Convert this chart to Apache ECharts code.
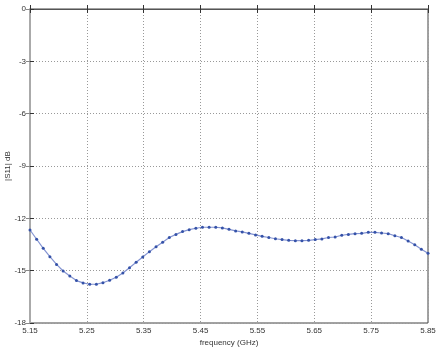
<!DOCTYPE html>
<html><head><meta charset="utf-8">
<script src="https://cdn.jsdelivr.net/npm/echarts@6/dist/echarts.min.js"></script>
<style>html,body{margin:0;padding:0;background:#fff}#c{width:438px;height:353px}</style>
</head><body><div id="c"></div>
<script>
var freq = [5.15,5.1617,5.1733,5.185,5.1967,5.2083,5.22,5.2317,5.2433,5.255,
5.2667,5.2783,5.29,5.3017,5.3133,5.325,5.3367,5.3483,5.36,5.3717,
5.3833,5.395,5.4067,5.4183,5.43,5.4417,5.4533,5.465,5.4767,5.4883,
5.5,5.5117,5.5233,5.535,5.5467,5.5583,5.57,5.5817,5.5933,5.605,
5.6167,5.6283,5.64,5.6517,5.6633,5.675,5.6867,5.6983,5.71,5.7217,
5.7333,5.745,5.7567,5.7683,5.78,5.7917,5.8033,5.815,5.8267,5.8383,5.85];
var s11 = [-12.67,-13.2,-13.72,-14.2,-14.64,-15.02,-15.3,-15.57,-15.7,-15.78,
-15.78,-15.69,-15.55,-15.38,-15.13,-14.83,-14.52,-14.22,-13.91,-13.63,
-13.37,-13.1,-12.92,-12.76,-12.65,-12.57,-12.51,-12.51,-12.51,-12.55,
-12.63,-12.72,-12.78,-12.86,-12.95,-13.03,-13.1,-13.17,-13.22,-13.26,
-13.28,-13.28,-13.26,-13.22,-13.18,-13.1,-13.07,-12.97,-12.92,-12.88,
-12.86,-12.8,-12.8,-12.84,-12.88,-13.0,-13.1,-13.3,-13.51,-13.77,-14.0];
var xStart = 5.15, xEnd = 5.85, xStep = 0.1;
var yTicks = [0,-3,-6,-9,-12,-15,-18];
var xLabel = 'frequency (GHz)', yLabel = '|S11| dB';

var data = freq.map(function(f,i){ return [+(f - xStart).toFixed(4), s11[i]]; });
var font = {fontFamily:'Liberation Sans', fontSize:8, color:'#333'};
var chart = echarts.init(document.getElementById('c'), null, {renderer:'canvas'});
chart.setOption({
  animation:false,
  backgroundColor:'#fff',
  grid:{left:30,right:10,top:9,bottom:30,containLabel:false,outerBoundsMode:'none',show:true,borderColor:'#444',borderWidth:1,backgroundColor:'#fff'},
  xAxis:[{
    type:'value', min:0, max:+(xEnd-xStart).toFixed(2), interval:xStep, position:'bottom',
    name:xLabel, nameLocation:'middle', nameGap:16, nameMoveOverlap:false,
    nameTextStyle:font,
    axisLine:{show:true,lineStyle:{color:'#555',width:1}},
    axisTick:{show:true,inside:true,length:4,lineStyle:{color:'#333'}},
    axisLabel:Object.assign({margin:4,formatter:function(v){return (v+xStart).toFixed(2);}},font),
    splitLine:{show:true,lineStyle:{color:'#999',type:[1,2],width:1}}
  },{
    type:'value', min:0, max:+(xEnd-xStart).toFixed(2), interval:xStep, position:'top',
    axisLine:{show:false},
    axisTick:{show:true,inside:true,length:4,lineStyle:{color:'#333'}},
    axisLabel:{show:false}, splitLine:{show:false}
  }],
  yAxis:[{
    type:'value', min:yTicks[yTicks.length-1], max:yTicks[0], interval:3,
    name:yLabel, nameLocation:'middle', nameGap:18, nameRotate:90, nameMoveOverlap:false,
    nameTextStyle:font,
    axisLine:{show:true,lineStyle:{color:'#aaa',width:2}},
    axisTick:{show:true,inside:true,length:4,lineStyle:{color:'#333'}},
    axisLabel:Object.assign({margin:4},font),
    splitLine:{show:true,lineStyle:{color:'#999',type:[1,2],width:1}}
  },{
    type:'value', min:yTicks[yTicks.length-1], max:yTicks[0], interval:3, position:'right',
    axisLine:{show:false},
    axisTick:{show:true,inside:true,length:4,lineStyle:{color:'#888'}},
    axisLabel:{show:false}, splitLine:{show:false}
  }],
  series:[{
    type:'line', data:data, xAxisIndex:0, yAxisIndex:0,
    smooth:false, symbol:'circle', symbolSize:3, showSymbol:true,
    lineStyle:{color:'#8494d2',width:1.2},
    itemStyle:{color:'#3552a8'}
  }]
});
</script></body></html>
